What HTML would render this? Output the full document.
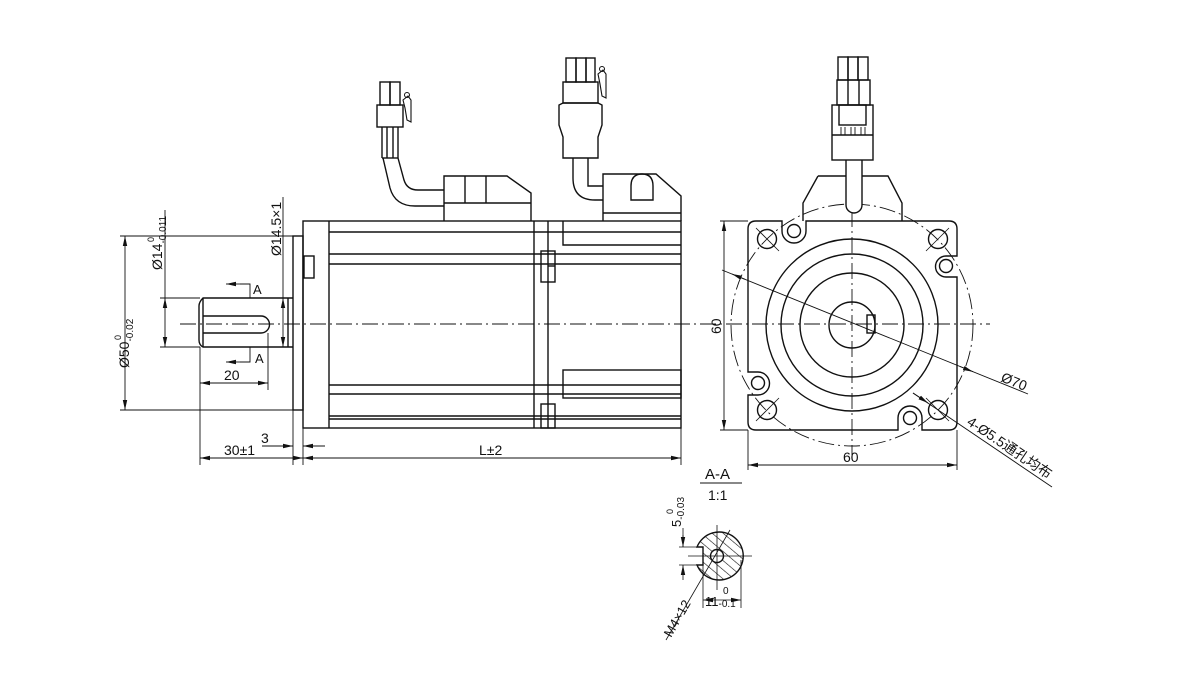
<!DOCTYPE html>
<html><head><meta charset="utf-8"><style>
html,body{margin:0;padding:0;background:#fff;}
svg{display:block}
text{font-family:"Liberation Sans","Noto Sans CJK SC",sans-serif;fill:#111;}
</style></head><body>
<svg width="1200" height="686" viewBox="0 0 1200 686" xmlns="http://www.w3.org/2000/svg">
<defs>
<marker id="ar" viewBox="0 0 10 6" refX="10" refY="3" markerWidth="10" markerHeight="6" markerUnits="userSpaceOnUse" orient="auto-start-reverse"><path d="M0,0.8 L10,3 L0,5.2 z" fill="#111"/></marker>
<pattern id="hat" width="7" height="7" patternUnits="userSpaceOnUse" patternTransform="rotate(-50)"><line x1="0" y1="0" x2="0" y2="7" stroke="#111" stroke-width="1.2"/></pattern>
</defs>
<g fill="none" stroke="#111" stroke-width="1.4">
<line x1="180" y1="324" x2="990" y2="324" stroke-width="0.9" stroke-dasharray="16,4,2,4"/>
<line x1="852" y1="185" x2="852" y2="455" stroke-width="0.9" stroke-dasharray="16,4,2,4"/>

<rect x="303" y="221" width="378" height="207"/>
<line x1="329" y1="221" x2="329" y2="428"/>
<rect x="293" y="236" width="10" height="174"/>
<rect x="304" y="256" width="10" height="22"/>
<line x1="329" y1="232" x2="681" y2="232"/>
<line x1="329" y1="254" x2="681" y2="254"/>
<line x1="329" y1="264" x2="681" y2="264"/>
<line x1="329" y1="385" x2="681" y2="385"/>
<line x1="329" y1="394" x2="681" y2="394"/>
<line x1="329" y1="416" x2="681" y2="416"/>
<line x1="329" y1="419" x2="681" y2="419"/>
<line x1="534" y1="221" x2="534" y2="428"/>
<line x1="548" y1="221" x2="548" y2="428"/>
<rect x="541" y="251" width="14" height="31"/>
<line x1="548" y1="266" x2="555" y2="266"/>
<rect x="541" y="404" width="14" height="24"/>
<polyline points="563,221 563,245 681,245"/>
<rect x="563" y="370" width="118" height="28"/>
<path d="M293,298 L203,298 Q199,302 199,306 L199,340 Q199,345 203,347 L293,347"/>
<line x1="288" y1="298" x2="288" y2="347"/>
<line x1="203" y1="298" x2="203" y2="347"/>
<path d="M203,316 L261,316 A8.5,8.5 0 0 1 261,333 L203,333"/>
<path d="M444,221 L444,176 L507,176 L531,193 L531,221"/>
<line x1="444" y1="203" x2="531" y2="203"/>
<line x1="465" y1="176" x2="465" y2="203"/>
<line x1="486" y1="176" x2="486" y2="203"/>
<path d="M383,158 L390,188 Q395,206 415,206 L444,206"/>
<path d="M398,158 L404,180 Q407,190 418,190 L444,190"/>
<line x1="382" y1="127" x2="382" y2="158"/>
<line x1="398" y1="127" x2="398" y2="158"/>
<line x1="387" y1="127" x2="387" y2="158"/>
<line x1="393" y1="127" x2="393" y2="158"/>
<line x1="382" y1="158" x2="398" y2="158"/>
<rect x="377" y="105" width="26" height="22"/>
<rect x="380" y="82" width="10" height="23"/>
<rect x="390" y="82" width="10" height="23"/>
<path d="M403,100 L408,96 L411,100 L411,122 L407,120 L405,108 Z" stroke-width="1.1"/>
<circle cx="407" cy="95" r="2.5" stroke-width="1"/>
<path d="M603,221 L603,174 L656,174 L681,196 L681,221"/>
<line x1="603" y1="213" x2="681" y2="213"/>
<path d="M631,200 L631,186 Q631,174 642,174 Q653,174 653,186 L653,200 Z"/>
<path d="M573,158 L573,178 Q573,200 595,200 L603,200"/>
<path d="M588,158 L588,186 L603,186"/>
<path d="M563,103 L559,105 L559,125 L563,137 L563,158 L598,158 L598,137 L602,125 L602,105 L598,103 Z"/>
<rect x="563" y="82" width="35" height="21"/>
<rect x="566" y="58" width="10" height="24"/>
<rect x="576" y="58" width="10" height="24"/>
<rect x="586" y="58" width="9" height="24"/>
<path d="M598,74 L603,70 L606,74 L606,98 L602,96 L600,84 Z" stroke-width="1.1"/>
<circle cx="602" cy="69" r="2.5" stroke-width="1"/>

<g stroke-width="0.9">
<line x1="120" y1="236" x2="293" y2="236"/>
<line x1="120" y1="410" x2="293" y2="410"/>
<line x1="125" y1="236" x2="125" y2="410" marker-start="url(#ar)" marker-end="url(#ar)"/>
<line x1="160" y1="298" x2="200" y2="298"/>
<line x1="160" y1="347" x2="200" y2="347"/>
<line x1="165" y1="210" x2="165" y2="298"/>
<line x1="165" y1="298" x2="165" y2="347" marker-start="url(#ar)" marker-end="url(#ar)"/>
<line x1="283" y1="197" x2="283" y2="298"/>
<line x1="283" y1="298" x2="283" y2="347" marker-start="url(#ar)" marker-end="url(#ar)"/>
<polyline points="250,298 250,284 240,284"/>
<line x1="240" y1="284" x2="226" y2="284" marker-end="url(#ar)"/>
<polyline points="250,347 250,362 240,362"/>
<line x1="240" y1="362" x2="226" y2="362" marker-end="url(#ar)"/>
<line x1="268" y1="333" x2="268" y2="390"/>
<line x1="200" y1="383" x2="268" y2="383" marker-start="url(#ar)" marker-end="url(#ar)"/>
<line x1="200" y1="347" x2="200" y2="465"/>
<line x1="293" y1="410" x2="293" y2="465"/>
<line x1="303" y1="428" x2="303" y2="465"/>
<line x1="681" y1="428" x2="681" y2="465"/>
<line x1="200" y1="458" x2="303" y2="458" marker-start="url(#ar)" marker-end="url(#ar)"/>
<line x1="303" y1="458" x2="681" y2="458" marker-start="url(#ar)" marker-end="url(#ar)"/>
<line x1="262" y1="446" x2="293" y2="446" marker-end="url(#ar)"/>
<line x1="325" y1="446" x2="303" y2="446" marker-end="url(#ar)"/>
</g>

<circle cx="852" cy="325" r="121" stroke-width="0.9" stroke-dasharray="16,4,2,4"/>
<path d="M818,176 L888,176 L902,203 L902,221 M818,176 L803,203 L803,221"/>
<path d="M756,221 L782,221 L782,231 A12,12 0 0 0 806,231 L806,221 L949,221 Q957,221 957,229 L957,256 L946,256 A10,10 0 0 0 946,277 L957,277 L957,422 Q957,430 949,430 L922,430 L922,418 A12,12 0 0 0 898,418 L898,430 L756,430 Q748,430 748,422 L748,395 L758,395 A11,11 0 0 0 758,372 L748,372 L748,229 Q748,221 756,221 Z"/>
<circle cx="794" cy="231" r="6.5"/>
<circle cx="946" cy="266" r="6.5"/>
<circle cx="758" cy="383" r="6.5"/>
<circle cx="910" cy="418" r="6.5"/>
<circle cx="767" cy="239" r="9.5"/><circle cx="938" cy="239" r="9.5"/>
<circle cx="767" cy="410" r="9.5"/><circle cx="938" cy="410" r="9.5"/>
<g stroke-width="0.8">
<line x1="756" y1="228" x2="779" y2="251"/><line x1="949" y1="228" x2="926" y2="251"/>
<line x1="756" y1="421" x2="779" y2="398"/><line x1="926" y1="398" x2="949" y2="421"/>
</g>
<circle cx="852" cy="325" r="86"/>
<circle cx="852" cy="325" r="71"/>
<circle cx="852" cy="325" r="52"/>
<circle cx="852" cy="325" r="23"/>
<rect x="867" y="315" width="8" height="18"/>
<path d="M846,160 L846,205 A8,8 0 0 0 862,205 L862,160" fill="#fff"/>
<rect x="832" y="105" width="41" height="55"/>
<rect x="839" y="105" width="27" height="20"/>
<line x1="832" y1="135" x2="873" y2="135"/>
<rect x="837" y="80" width="33" height="25"/>
<line x1="848" y1="80" x2="848" y2="105"/><line x1="859" y1="80" x2="859" y2="105"/>
<rect x="838" y="57" width="10" height="23"/><rect x="848" y="57" width="10" height="23"/><rect x="858" y="57" width="10" height="23"/>
<g stroke-width="0.9"><line x1="841" y1="127" x2="841" y2="135"/><line x1="845" y1="127" x2="845" y2="135"/><line x1="851" y1="127" x2="851" y2="135"/><line x1="855" y1="127" x2="855" y2="135"/><line x1="861" y1="127" x2="861" y2="135"/><line x1="865" y1="127" x2="865" y2="135"/></g>
<g stroke-width="0.9">
<line x1="720" y1="221" x2="748" y2="221"/><line x1="720" y1="430" x2="748" y2="430"/>
<line x1="724" y1="221" x2="724" y2="430" marker-start="url(#ar)" marker-end="url(#ar)"/>
<line x1="748" y1="430" x2="748" y2="470"/><line x1="957" y1="430" x2="957" y2="470"/>
<line x1="748" y1="465" x2="957" y2="465" marker-start="url(#ar)" marker-end="url(#ar)"/>
<line x1="722" y1="270" x2="1028" y2="394"/>
<line x1="745" y1="279.3" x2="732" y2="274" marker-end="url(#ar)"/>
<line x1="960" y1="366.5" x2="973" y2="371.7" marker-end="url(#ar)"/>
<line x1="913" y1="393" x2="1052" y2="487"/>
<line x1="913" y1="393" x2="928" y2="403" marker-end="url(#ar)"/>
</g>

<line x1="700" y1="483" x2="742" y2="483" stroke-width="1"/>
<path d="M697,547 A24,24 0 1 1 697,565 L703,565 L703,547 Z" fill="url(#hat)"/>
<circle cx="717" cy="556" r="6.5" fill="#fff"/>
<g stroke-width="0.8">
<line x1="688" y1="556" x2="752" y2="556"/><line x1="717" y1="525" x2="717" y2="590"/>
<line x1="679" y1="547" x2="697" y2="547"/><line x1="679" y1="565" x2="697" y2="565"/>
<line x1="683" y1="528" x2="683" y2="547"/><line x1="683" y1="535" x2="683" y2="547" marker-end="url(#ar)"/>
<line x1="683" y1="580" x2="683" y2="565" marker-end="url(#ar)"/>
<line x1="703" y1="565" x2="703" y2="608"/><line x1="741" y1="560" x2="741" y2="608"/>
<line x1="703" y1="600" x2="741" y2="600" marker-start="url(#ar)" marker-end="url(#ar)"/>
<line x1="730" y1="530" x2="666" y2="640"/>
</g>
</g>

<g font-size="14">
<text transform="translate(129,368) rotate(-90)">Ø50<tspan font-size="10" dy="4">-0.02</tspan></text>
<text transform="translate(121,340) rotate(-90)" font-size="9">0</text>
<text transform="translate(162,270) rotate(-90)">Ø14<tspan font-size="10" dy="4">-0.011</tspan></text>
<text transform="translate(154,242) rotate(-90)" font-size="9">0</text>
<text transform="translate(281,256) rotate(-90)">Ø14.5×1</text>
<text x="253" y="294" font-size="13">A</text>
<text x="255" y="363" font-size="13">A</text>
<text x="224" y="380">20</text>
<text x="224" y="455">30±1</text>
<text x="261" y="443">3</text>
<text x="479" y="455">L±2</text>
<text transform="translate(721,334) rotate(-90)">60</text>
<text x="843" y="462">60</text>
<text transform="translate(1000,381) rotate(22)">Ø70</text>
<text transform="translate(966,424) rotate(34)">4-Ø5.5通孔均布</text>
<text x="705" y="479" font-size="15">A-A</text>
<text x="708" y="500" font-size="14">1:1</text>
<text transform="translate(681,527) rotate(-90)" font-size="13">5<tspan font-size="10" dy="3">-0.03</tspan></text>
<text transform="translate(673,514) rotate(-90)" font-size="9">0</text>
<text x="705" y="606" font-size="13">11<tspan font-size="10" dy="1">-0.1</tspan></text>
<text x="723" y="594" font-size="10">0</text>
<text transform="translate(671,638) rotate(-60)" font-size="13" font-family="Liberation Serif,serif">M4×12</text>
</g>
</svg>
</body></html>
